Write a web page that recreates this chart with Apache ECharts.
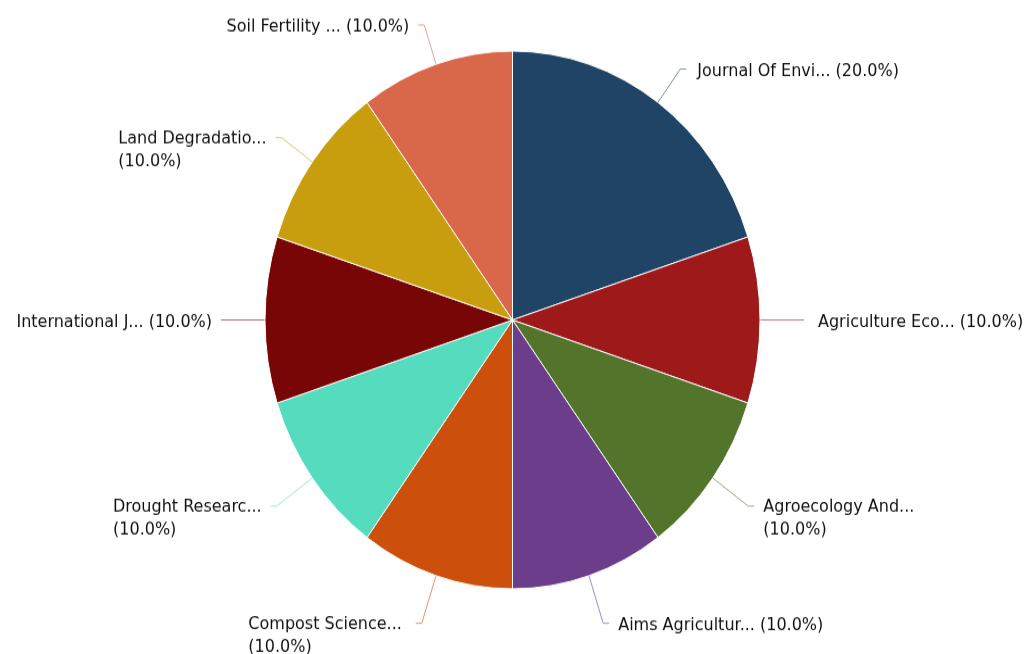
<!DOCTYPE html>
<html>
<head>
<meta charset="utf-8">
<script src="https://cdn.jsdelivr.net/npm/echarts@6/dist/echarts.min.js"></script>
<style>
html,body{margin:0;padding:0;background:#fff;overflow:hidden;}
#wrap{width:1025px;height:654px;overflow:hidden;}
#c{width:1025px;height:602px;transform:scaleY(1.0864);transform-origin:0 0;}
</style>
</head>
<body>
<div id="wrap"><div id="c"></div></div>
<script>
const names = ["Journal Of Envi...", "Agriculture Eco...", "Agroecology And...", "Aims Agricultur...", "Compost Science...", "Drought Researc...", "International J...", "Land Degradatio...", "Soil Fertility ..."];
const values = [2, 1, 1, 1, 1, 1, 1, 1, 1];
const colors = ["#1f4466", "#9e1a1a", "#52742b", "#6b3d8a", "#cc4f0c", "#55dbbd", "#780606", "#c89e0e", "#d9674a"];
const twoLine = [false, false, true, false, true, true, false, true, false];

const chart = echarts.init(document.getElementById('c'), null, {renderer: 'canvas'});
const FONT = 'DejaVu Sans';
const lineLen = [38, 38, 44, 46, 46, 44, 38, 38, 38];
const labelGap = [11, 14, 9, 9, 14, 9, 9, 9, 9];
chart.setOption({
  animation: false,
  backgroundColor: '#fff',
  series: [{
    type: 'pie',
    center: [512.5, 294.5],
    radius: 247.5,
    startAngle: 90,
    clockwise: true,
    avoidLabelOverlap: false,
    itemStyle: {borderColor: '#fff', borderWidth: 1},
    label: {
      show: true,
      position: 'outside',
      color: '#111',
      fontFamily: FONT,
      fontSize: 16,
      lineHeight: 21,
      distanceToLabelLine: 9,
      formatter: function (p) {
        const pct = '(' + p.percent.toFixed(1) + '%)';
        if (twoLine[p.dataIndex]) return '{t|' + p.name + '}\n{t|' + pct + '}';
        return '{t|' + p.name + ' ' + pct + '}';
      },
      rich: {t: {align: 'left', fontFamily: FONT, fontSize: 16, lineHeight: 21, color: '#111'}}
    },
    labelLine: {show: true, length: 38, length2: 6, smooth: false, lineStyle: {width: 1, opacity: 0.6}},
    emphasis: {disabled: true},
    data: names.map((n, i) => ({
      name: n,
      value: values[i],
      itemStyle: {color: colors[i]},
      labelLine: {length: lineLen[i]},
      label: {padding: twoLine[i] ? [23, 0, 0, 0] : [4, 0, 0, 0], distanceToLabelLine: labelGap[i]}
    }))
  }]
});
</script>
</body>
</html>
